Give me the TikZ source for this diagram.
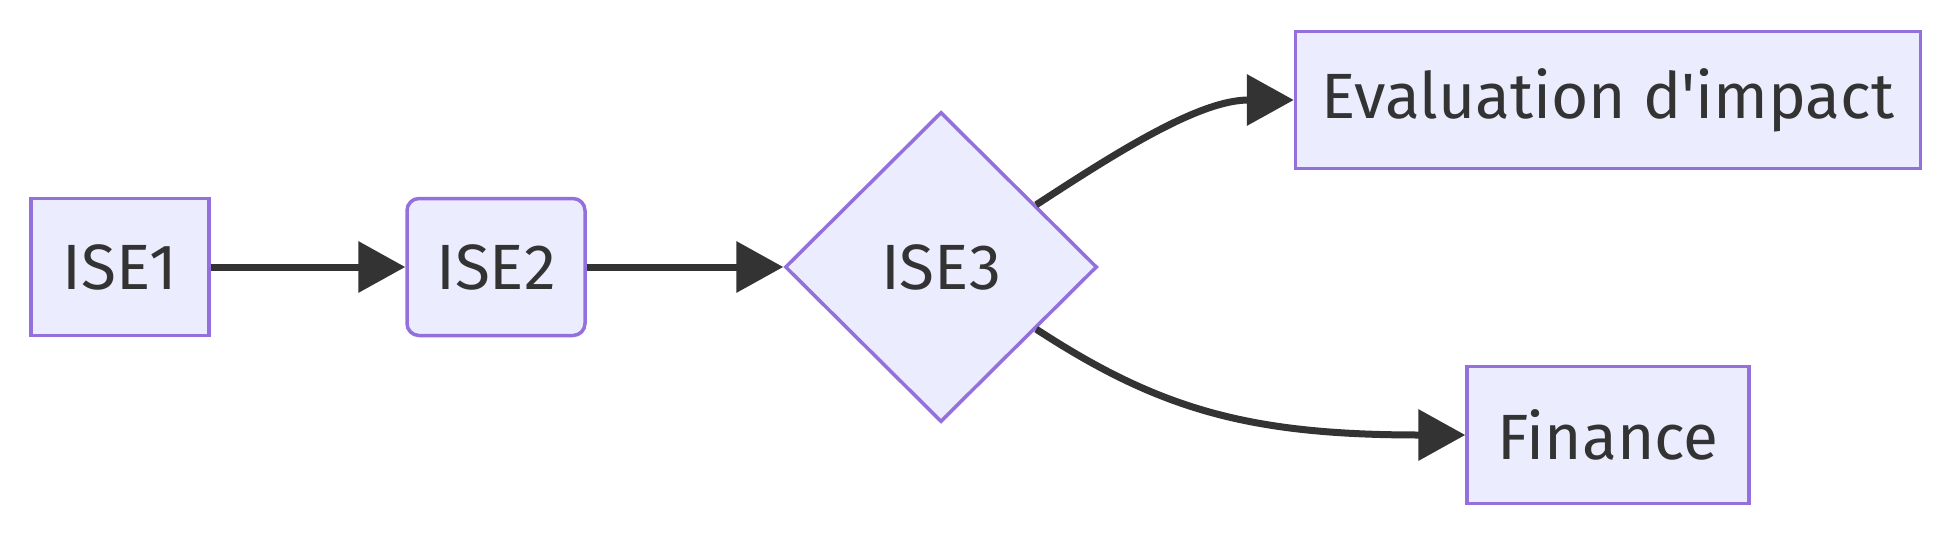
\documentclass[tikz,border=0pt]{standalone}
\usepackage{fontspec}
\newfontfamily\labelfont{Fira Sans}
\usetikzlibrary{shapes.geometric,arrows.meta}
\definecolor{nodefill}{HTML}{ECECFF}
\definecolor{nodeline}{HTML}{9370DB}
\definecolor{ink}{HTML}{333333}
\begin{document}
\begin{tikzpicture}[x=1pt,y=-1pt,
  box/.style={draw=nodeline,fill=nodefill,line width=3.5pt,inner sep=0pt,
    text=ink,font=\labelfont\fontsize{64}{76}\selectfont,minimum height=137pt},
  flow/.style={draw=ink,line width=7pt,-{Triangle[length=47pt,width=50pt]}}]
\useasboundingbox (0,0) rectangle (1948,536);
\node[box,minimum width=178pt] (a) at (120,267) {ISE1};
\node[box,minimum width=178pt,rounded corners=12pt] (b) at (496,267) {ISE2};
\node[box,shape=diamond,minimum width=312pt,minimum height=310pt] (c) at (941,267) {ISE3};
\node[box,minimum width=625pt] (d) at (1608,100) {Evaluation d'impact};
\node[box,minimum width=282pt] (e) at (1608,435) {Finance};
\draw[flow] (a) -- (b);
\draw[flow] (b) -- (c);
\draw[flow] (c) .. controls (1120,150) and (1200,100) .. (d.west);
\draw[flow] (c) .. controls (1160,410) and (1250,435) .. (e.west);
\end{tikzpicture}
\end{document}
